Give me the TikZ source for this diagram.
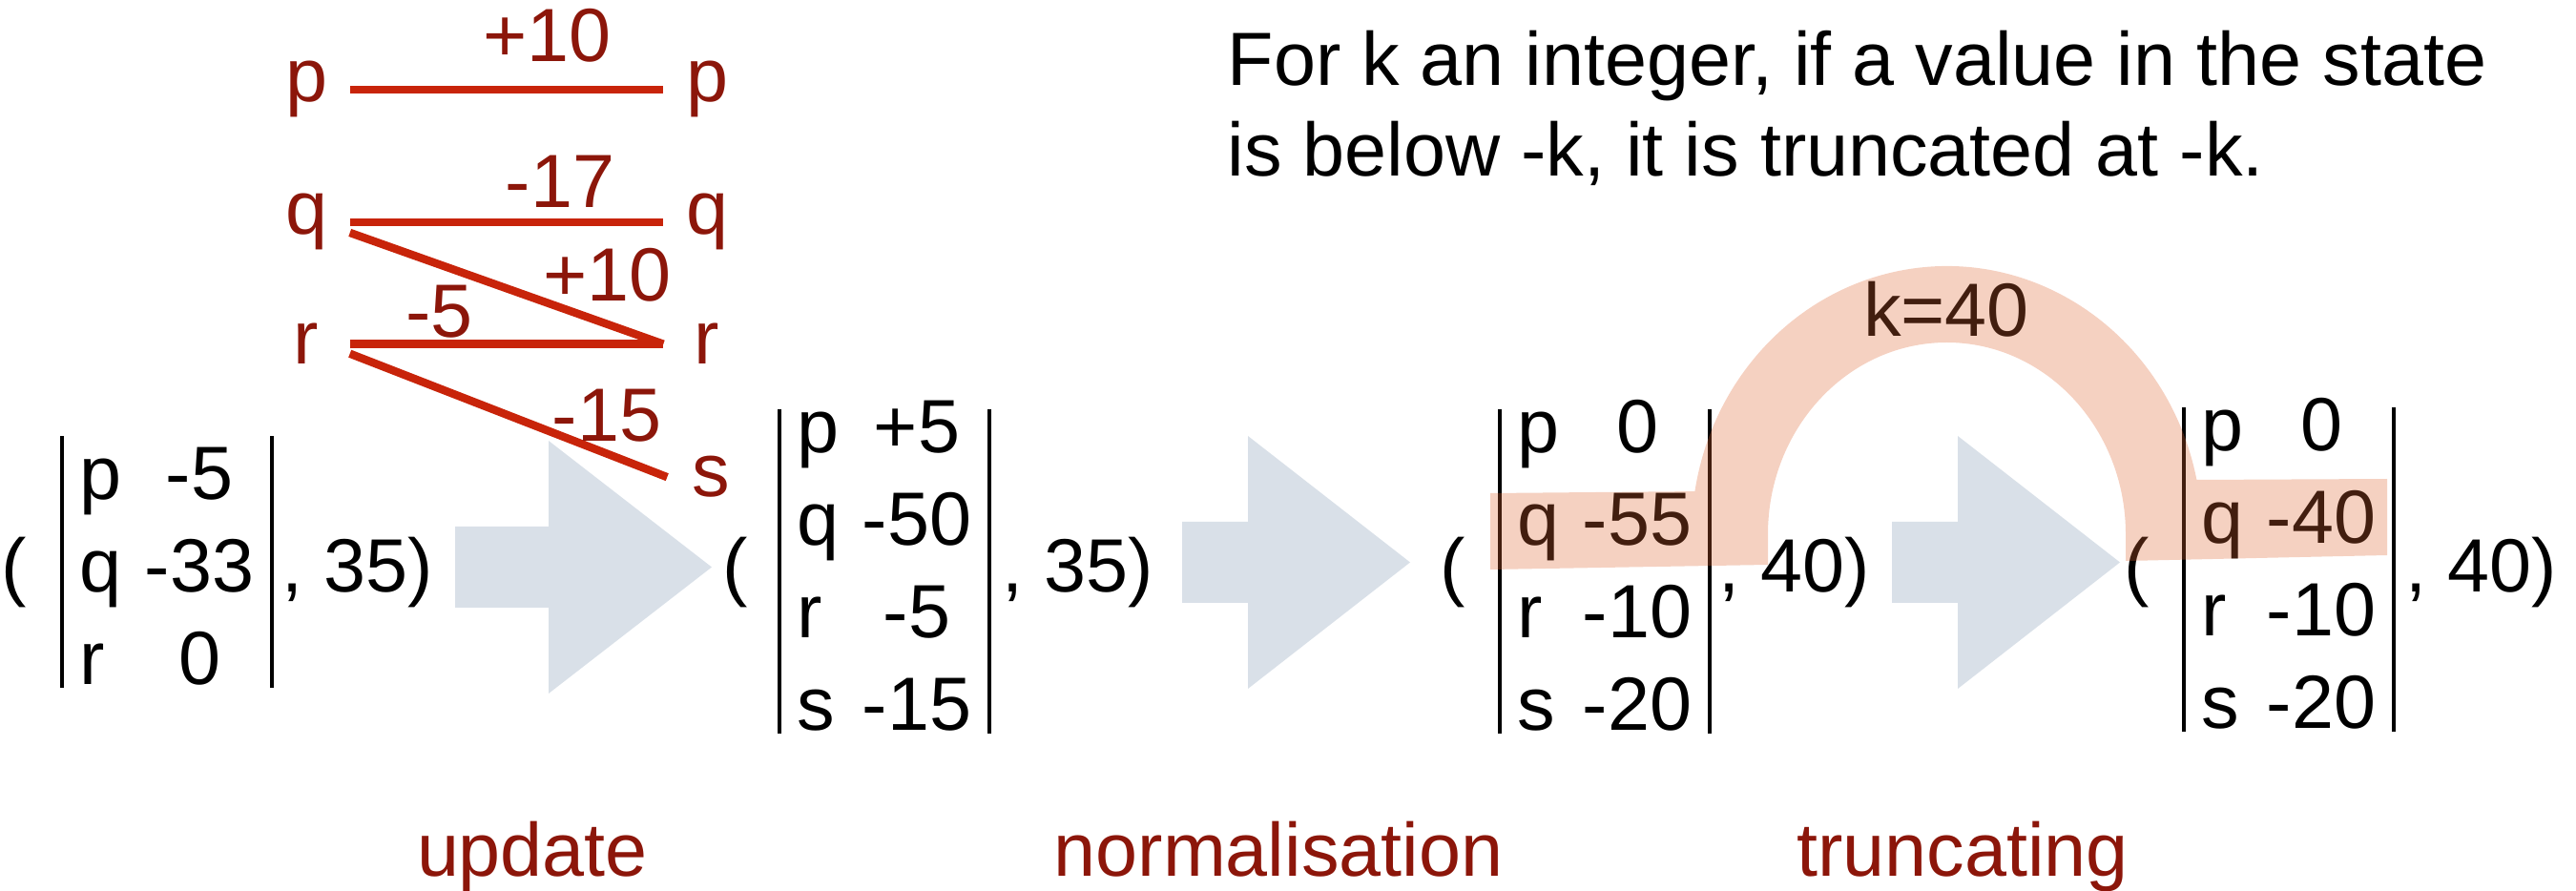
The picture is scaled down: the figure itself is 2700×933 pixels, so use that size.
\documentclass[tikz,border=0pt]{standalone}
\usepackage{fontspec}
\setmainfont{Liberation Sans}
\usetikzlibrary{matrix,positioning}

\definecolor{labelred}{RGB}{140,22,10}
\definecolor{edgered}{RGB}{200,36,10}
\definecolor{arrowgray}{RGB}{217,224,232}
\definecolor{highlight}{RGB}{221,102,51}

\tikzset{
    txt/.style={inner sep=0pt, font=\fontsize{22.5}{27}\selectfont},
    letter/.style={txt, text=labelred, anchor=base, minimum width=0.9cm},
    weight/.style={txt, text=labelred},
    update edge/.style={draw=edgered, line width=2.4pt},
    bar/.style={line width=0.9pt},
    state/.style={%
        matrix of nodes,
        inner xsep=0.18cm, inner ysep=0.03cm,
        nodes={txt, text height=0.41cm, text depth=0pt},
        column 1/.style={anchor=base west},
        column 2/.style={anchor=base},
        column sep={1.26cm,between origins},
        row sep={0.97cm,between origins}},
}

\begin{document}
\begin{tikzpicture}[x=0.01cm, y=0.01cm]
            \useasboundingbox (0,0) rectangle (2700,933);

            % big grey arrows between the states
            \foreach \xl/\xb/\xt/\yc in {477/575/746/338.5,
                1239/1308/1478/343.5, 1983/2052/2222/343.5}
            \fill[arrowgray] (\xl,{\yc-42.5}) -- (\xb,{\yc-42.5})
                -- (\xb,{\yc-132.5}) -- (\xt,\yc) -- (\xb,{\yc+132.5})
                -- (\xb,{\yc+42.5}) -- (\xl,{\yc+42.5}) -- cycle;

            % the update graph
            \node[letter] (pL) at (321,826) {p};
            \node[letter] (qL) at (321,687) {q};
            \node[letter] (rL) at (321,551) {r};
            \node[letter] (pR) at (741,826) {p};
            \node[letter] (qR) at (741,687) {q};
            \node[letter] (rR) at (741,551) {r};
            \node[letter] (sR) at (745,412) {s};

            \path[update edge]
            (pL) edge node[weight, pos=.63, above=0.24cm] {+10} (pR)
            (qL) edge node[weight, pos=.67, above=0.11cm] {-17} (qR)
            ([yshift=-0.11cm]qL.east) edge node[weight, pos=.82, above=0.19cm] {+10} (rR.west)
            (rL) edge node[weight, pos=.285, above=0.02cm] {-5} (rR)
            ([yshift=-0.1cm]rL.east) edge node[weight, pos=.81, above=0.08cm] {-15} (sR.west);

            % the four states
            \matrix [state, nodes={text height=0.62cm},
            matrix anchor=m1-1-1.base west] (m1) at (83,410) {%
            p & -5 \\
            q & -33 \\
            r & 0 \\
            };
            \matrix [state, matrix anchor=m2-1-1.base west] (m2) at (835,459) {%
            p & +5 \\
            q & -50 \\
            r & -5 \\
            s & -15 \\
            };
            \matrix [state, matrix anchor=m3-1-1.base west] (m3) at (1590,459) {%
            p & 0 \\
            q & -55 \\
            r & -10 \\
            s & -20 \\
            };
            \matrix [state, matrix anchor=m4-1-1.base west] (m4) at (2307,461) {%
            p & 0 \\
            q & -40 \\
            r & -10 \\
            s & -20 \\
            };

            \foreach \m in {m1,m2,m3,m4}
            \draw[bar] (\m.north west) -- (\m.south west)
                (\m.north east) -- (\m.south east);

            \node[txt, anchor=base] (open1) at (15,313) {(};
            \node[txt, anchor=base] (open2) at (771,313) {(};
            \node[txt, anchor=base] (open3) at (1523,313) {(};
            \node[txt, anchor=base] (open4) at (2240,313) {(};
            \node[txt, anchor=base west] (tail1) at (295,313) {, 35)};
            \node[txt, anchor=base west] (tail2) at (1050,313) {, 35)};
            \node[txt, anchor=base west] (tail3) at (1801,313) {, 40)};
            \node[txt, anchor=base west] (tail4) at (2521,313) {, 40)};

            % the note and the step names
            \node[txt, anchor=base west] (note1) at (1286,843)
            {For k an integer, if a value in the state};
            \node[txt, anchor=base west] (note2) at (1286,748)
            {is below -k, it is truncated at -k.};

            \node[txt, text=labelred, anchor=base] (upd) at (558,15) {update};
            \node[txt, text=labelred, anchor=base] (norm) at (1340,15) {normalisation};
            \node[txt, text=labelred, anchor=base] (trunc) at (2057,15) {truncating};

            \node[txt, anchor=base] (kval) at (2040,580) {k=40};

            % truncation band over the q rows
            \fill[highlight, fill opacity=0.3]
            (1562,336) -- (1853,341) -- (1853,373)
            arc[start angle=180, end angle=0, x radius=187.5, y radius=201]
            -- (2228,345) -- (2502,351) -- (2502,431) -- (2302.4,430)
            arc[start angle=11.7, end angle=170.8, x radius=267.5, y radius=281]
            -- (1562,416) -- cycle;
        \end{tikzpicture}
\end{document}
